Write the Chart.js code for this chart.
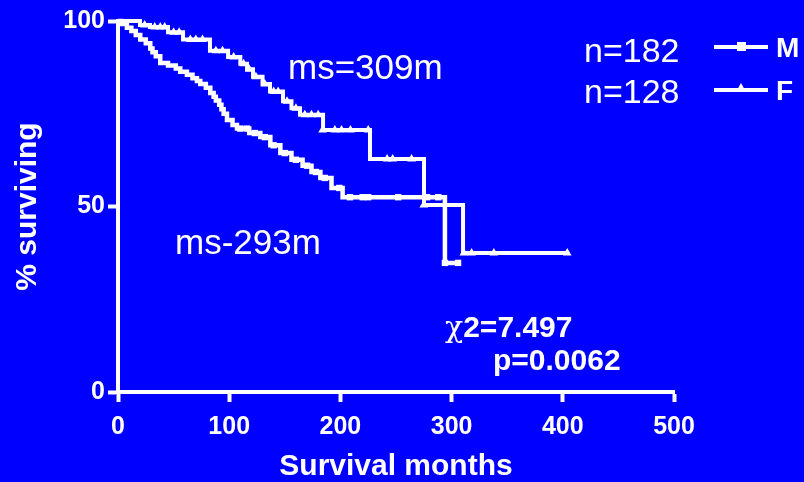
<!DOCTYPE html>
<html>
<head>
<meta charset="utf-8">
<script src="https://cdn.jsdelivr.net/npm/chart.js@4"></script>
<style>
  html, body { margin: 0; padding: 0; background: #0000FF; }
  #wrap { position: relative; width: 804px; height: 482px; background: #0000FF; overflow: hidden; }
  canvas { position: absolute; left: 0; top: 0; }
  .t { position: absolute; color: #fff; font-family: "Liberation Sans", Arial, sans-serif; white-space: nowrap; transform: translateY(-50%); line-height: 1; }
  .b { font-weight: bold; }
  .ln { position: absolute; background: #fff; height: 4px; width: 54px; }
  .sq { position: absolute; background: #fff; width: 9px; height: 9px; }
  .tri { position: absolute; width: 0; height: 0; border-left: 5px solid transparent; border-right: 5px solid transparent; border-bottom: 9px solid #fff; }
</style>
</head>
<body>
<div id="wrap">
  <canvas id="c" width="804" height="482"></canvas>
  <div class="t" style="left:288px; top:66px; font-size:35px;">ms=309m</div>
  <div class="t" style="left:175px; top:241px; font-size:35px;">ms-293m</div>
  <div class="t b" style="left:445px; top:327px; font-size:30px;"><span style="font-family:'DejaVu Serif',serif;font-weight:normal;">χ</span>2=7.497</div>
  <div class="t b" style="left:493px; top:360px; font-size:30px;">p=0.0062</div>
  <div class="t" style="left:584px; top:50px; font-size:34px;">n=182</div>
  <div class="t" style="left:584px; top:91px; font-size:34px;">n=128</div>
  <div class="ln" style="left:714px; top:45px;"></div>
  <div class="sq" style="left:737px; top:42px;"></div>
  <div class="ln" style="left:714px; top:88px;"></div>
  <div class="tri" style="left:736px; top:83px;"></div>
  <div class="t b" style="left:776px; top:48px; font-size:28px;">M</div>
  <div class="t b" style="left:776px; top:91px; font-size:28px;">F</div>
</div>
<script>
// Tick labels
const xTicks = [0, 100, 200, 300, 400, 500];
const yTicks = [0, 50, 100];

// Male (M) Kaplan-Meier steps: time (months) and survival (%) after each event
const maleTimes = [0, 3, 8, 12, 16, 20, 25, 29, 31, 34, 38, 45, 52, 56, 62, 67, 71, 74, 79, 83, 86, 88, 91, 93, 95, 98, 103, 107, 118, 128, 137, 146, 156, 166, 174, 182, 192, 202, 294, 307.5];
const maleSurv  = [100, 99.2, 98.2, 97.3, 96.2, 95, 94, 92.6, 91.6, 90.5, 88.7, 88, 87.2, 86.3, 85.5, 84.6, 83.8, 83, 82, 80.6, 79.6, 78.6, 77.4, 76.2, 75, 73.3, 72, 71, 69.8, 68.7, 66.5, 64.4, 62.6, 61, 59.3, 57.7, 55, 52.5, 34.8, 34.8];
// Male censored marks
const maleCensorTimes = [110, 116, 123, 132, 140, 150, 160, 170, 178, 186, 199, 208.6, 220, 225, 252, 278, 288, 294, 305.8];
const maleCensorSurv  = [71, 71, 69.8, 68.7, 66.5, 64.4, 62.6, 61, 59.3, 57.7, 55, 52.5, 52.5, 52.5, 52.5, 52.5, 52.5, 34.8, 34.8];

// Female (F) Kaplan-Meier steps
const femaleTimes = [0, 19.8, 28.8, 45, 58.5, 82.7, 99, 110, 116, 121.4, 130, 136.7, 148.4, 156, 163.7, 184.4, 226.6, 275.2, 310.3, 403.8];
const femaleSurv  = [100, 98.9, 98.4, 97, 95, 92, 90.3, 88.5, 87, 85, 83, 81, 78.4, 76.5, 74.7, 70.6, 62.8, 50.4, 37.5, 37.5];
// Female censored marks
const femaleCensorTimes = [24, 33, 38, 42, 50, 55, 65, 70, 76, 88, 94, 104, 113, 118, 124, 132, 140, 144, 152, 160, 168, 174, 180, 184, 195, 201, 209, 225, 242, 247, 264, 275, 311, 318, 338, 404];
const femaleCensorSurv  = [98.9, 98.4, 98.4, 98.4, 97, 97, 95, 95, 95, 92, 92, 90.3, 88.5, 87, 85, 83, 81, 81, 78.4, 76.5, 74.7, 74.7, 74.7, 70.6, 70.6, 70.6, 70.6, 70.6, 62.8, 62.8, 62.8, 50.4, 37.5, 37.5, 37.5, 37.5];

const toXY = (xs, ys) => xs.map((x, i) => ({ x: x, y: ys[i] }));
const FONT = '"Liberation Sans", Arial, sans-serif';

new Chart(document.getElementById('c'), {
  type: 'line',
  data: {
    datasets: [
      { label: 'M', data: toXY(maleTimes, maleSurv), stepped: true, borderColor: '#fff', borderWidth: 4.5, pointRadius: 0, fill: false, clip: false },
      { label: 'M censored', data: toXY(maleCensorTimes, maleCensorSurv), showLine: false, pointStyle: 'rect', pointRadius: 4.5, pointBackgroundColor: '#fff', pointBorderColor: '#fff', pointBorderWidth: 0, clip: false },
      { label: 'F', data: toXY(femaleTimes, femaleSurv), stepped: true, borderColor: '#fff', borderWidth: 4, pointRadius: 0, fill: false, clip: false },
      { label: 'F censored', data: toXY(femaleCensorTimes, femaleCensorSurv), showLine: false, pointStyle: 'triangle', pointRadius: 5, pointBackgroundColor: '#fff', pointBorderColor: '#fff', pointBorderWidth: 0, clip: false }
    ]
  },
  options: {
    responsive: false,
    devicePixelRatio: 1,
    animation: false,
    layout: { padding: { top: 21, right: 130, left: 0, bottom: 0 } },
    plugins: { legend: { display: false }, tooltip: { enabled: false } },
    scales: {
      x: {
        type: 'linear', min: 0, max: 500,
        afterBuildTicks: (s) => { s.ticks = xTicks.map(v => ({ value: v })); },
        ticks: { color: '#fff', font: { family: FONT, size: 25, weight: 'bold' }, padding: 10, maxRotation: 0 },
        grid: { drawOnChartArea: false, drawTicks: true, tickLength: 10, tickWidth: 4, color: '#fff' },
        border: { display: true, color: '#fff', width: 4 },
        title: { display: true, text: 'Survival months', color: '#fff', font: { family: FONT, size: 30, weight: 'bold', lineHeight: 1 }, padding: { top: 6, bottom: 0 } },
        afterFit: (s) => { s.height = 90; }
      },
      y: {
        type: 'linear', min: 0, max: 100,
        afterBuildTicks: (s) => { s.ticks = yTicks.map(v => ({ value: v })); },
        ticks: { color: '#fff', font: { family: FONT, size: 25, weight: 'bold' }, padding: 3 },
        grid: { drawOnChartArea: false, drawTicks: true, tickLength: 10, tickWidth: 4, color: '#fff' },
        border: { display: true, color: '#fff', width: 4 },
        title: { display: true, text: '% surviving', color: '#fff', font: { family: FONT, size: 30, weight: 'bold' }, padding: { top: 10, bottom: 0 } },
        afterFit: (s) => { s.width = 118; }
      }
    }
  }
});
</script>
</body>
</html>
